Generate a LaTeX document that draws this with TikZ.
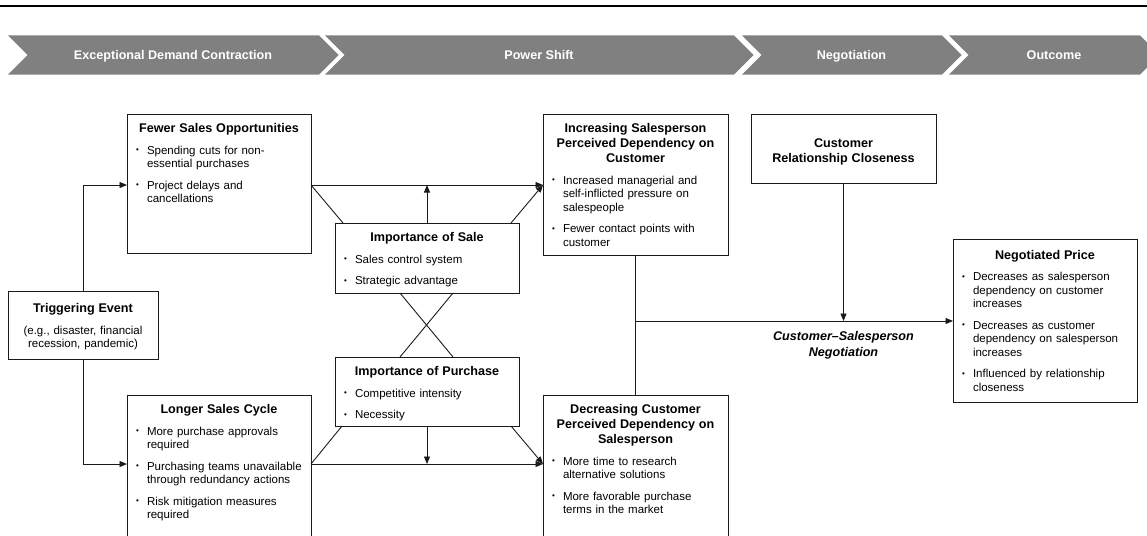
\documentclass[tikz,border=0pt]{standalone}
\usepackage{fontspec}
\setmainfont{Liberation Sans}
\usetikzlibrary{arrows.meta}

\definecolor{chevgray}{HTML}{808080}
\definecolor{linec}{HTML}{1A1A1A}

\newcommand{\titlefont}{\fontsize{12.6}{15}\selectfont\bfseries}
\newcommand{\bodyfont}{\fontsize{11.5}{13.5}\selectfont}
% centred bold heading of a box; lines separated by \par
\newcommand{\boxtitle}[1]{{\titlefont\parskip=0pt\centering\rule{0pt}{10pt}#1\par}}
% bulleted entry with hanging indent; lines separated by \newline
\newcommand{\bul}[1]{\par\hangindent=11pt\hangafter=1\noindent\makebox[11pt][l]{\fontsize{8}{8}\selectfont\raisebox{1.2pt}{\textbullet}}#1\par}

\tikzset{
  box/.style={draw=linec, line width=0.9pt, anchor=north west, inner sep=0pt, outer sep=0pt},
  content/.style={anchor=north, inner sep=0pt, outer sep=0pt, text width=#1, font=\bodyfont,
    execute at begin node={\parskip=8pt\parindent=0pt}},
  chev/.style={fill=chevgray},
  chevtext/.style={anchor=base, inner sep=0pt, text=white, font=\titlefont},
  conn/.style={draw=linec, line width=0.9pt},
  arr/.style={conn, -{Triangle[length=7.5pt,width=6pt]}},
  lab/.style={anchor=north, align=center, inner sep=0pt, font=\fontsize{12.6}{15.5}\selectfont\bfseries\itshape}
}

\begin{document}
\begin{tikzpicture}[x=1pt, y=-1pt]
\useasboundingbox (0,0) rectangle (1147,535);
\clip (0,0) rectangle (1147,535);

% top rule
\draw[line width=2.2pt] (0,6) -- (1147,6);

% phase chevrons
\fill[chev] (8,35.5) -- (319,35.5) -- (338.5,55) -- (319,74.5) -- (8,74.5) -- (27.5,55) -- cycle;
\fill[chev] (325,35.5) -- (734,35.5) -- (753.5,55) -- (734,74.5) -- (325,74.5) -- (344.5,55) -- cycle;
\fill[chev] (742,35.5) -- (942,35.5) -- (961.5,55) -- (942,74.5) -- (742,74.5) -- (761.5,55) -- cycle;
\fill[chev] (949,35.5) -- (1140,35.5) -- (1159.5,55) -- (1140,74.5) -- (949,74.5) -- (968.5,55) -- cycle;
\node[chevtext] (ph1) at (173,59.5) {Exceptional Demand Contraction};
\node[chevtext] (ph2) at (539,59.5) {Power Shift};
\node[chevtext] (ph3) at (851.5,59.5) {Negotiation};
\node[chevtext] (ph4) at (1054,59.5) {Outcome};

% helper levels for the horizontal connectors
\coordinate (upline) at (0,185);
\coordinate (lowline) at (0,464);
\coordinate (negline) at (0,321);

% boxes
\node[box, minimum width=150pt, minimum height=68pt] (trig) at (8,291) {};
\node[box, minimum width=184pt, minimum height=139pt] (fso) at (127,114) {};
\node[box, minimum width=184pt, minimum height=150pt] (lsc) at (127,395) {};
\node[box, minimum width=184pt, minimum height=70pt] (sale) at (335,223) {};
\node[box, minimum width=184pt, minimum height=69pt] (pur) at (335,357) {};
\node[box, minimum width=185pt, minimum height=141pt] (inc) at (543,114) {};
\node[box, minimum width=185pt, minimum height=150pt] (dec) at (543,395) {};
\node[box, minimum width=185pt, minimum height=69pt] (clo) at (751,114) {};
\node[box, minimum width=184pt, minimum height=163pt] (neg) at (953,239) {};

% box contents
\node[content=140pt] (trig-t) at ([yshift=-11.5pt]trig.north) {%
  \boxtitle{Triggering Event}%
  {\centering (e.g., disaster, financial\par\parskip=0pt recession, pandemic)\par}};

\node[content=166pt] (fso-t) at ([yshift=-8.5pt]fso.north) {%
  \boxtitle{Fewer Sales Opportunities}%
  \bul{Spending cuts for non-\newline essential purchases}%
  \bul{Project delays and\newline cancellations}};

\node[content=166pt] (lsc-t) at ([yshift=-8.5pt]lsc.north) {%
  \boxtitle{Longer Sales Cycle}%
  \bul{More purchase approvals\newline required}%
  \bul{Purchasing teams unavailable\newline through redundancy actions}%
  \bul{Risk mitigation measures\newline required}};

\node[content=166pt] (sale-t) at ([yshift=-8.5pt]sale.north) {%
  \boxtitle{Importance of Sale}%
  \bul{Sales control system}%
  \bul{Strategic advantage}};

\node[content=166pt] (pur-t) at ([yshift=-8.5pt]pur.north) {%
  \boxtitle{Importance of Purchase}%
  \bul{Competitive intensity}%
  \bul{Necessity}};

\node[content=167pt] (inc-t) at ([yshift=-8.5pt]inc.north) {%
  \boxtitle{Increasing Salesperson\par Perceived Dependency on\par Customer}%
  \bul{Increased managerial and\newline self-inflicted pressure on\newline salespeople}%
  \bul{Fewer contact points with\newline customer}};

\node[content=167pt] (dec-t) at ([yshift=-8.5pt]dec.north) {%
  \boxtitle{Decreasing Customer\par Perceived Dependency on\par Salesperson}%
  \bul{More time to research\newline alternative solutions}%
  \bul{More favorable purchase\newline terms in the market}};

\node[content=167pt] (clo-t) at ([yshift=-23.5pt]clo.north) {%
  \boxtitle{Customer\par Relationship Closeness}};

\node[content=166pt] (neg-t) at ([yshift=-10pt]neg.north) {%
  \boxtitle{Negotiated Price}%
  \bul{Decreases as salesperson\newline dependency on customer\newline increases}%
  \bul{Decreases as customer\newline dependency on salesperson\newline increases}%
  \bul{Influenced by relationship\newline closeness}};

% connectors from the triggering event
\draw[arr] (trig.north) |- (fso.west |- upline);
\draw[arr] (trig.south) |- (lsc.west |- lowline);

% upper path: fewer opportunities -> salesperson dependency, moderated by importance of sale
\draw[arr] (fso.east |- upline) -- (inc.west |- upline);
\draw[conn] (fso.east |- upline) -- ([xshift=8pt]sale.north west);
\draw[arr] ([xshift=-8pt]sale.north east) -- (inc.west |- upline);
\draw[arr] (sale.north) -- (sale.north |- upline);

% crossing links between the two moderators
\draw[conn] ([xshift=65pt]sale.south west) -- ([xshift=-66pt]pur.north east);
\draw[conn] ([xshift=-66pt]sale.south east) -- ([xshift=65pt]pur.north west);

% lower path: longer cycle -> customer dependency, moderated by importance of purchase
\draw[arr] (lsc.east |- lowline) -- (dec.west |- lowline);
\draw[conn] (lsc.east |- lowline) -- ([xshift=7pt]pur.south west);
\draw[arr] ([xshift=-8pt]pur.south east) -- (dec.west |- lowline);
\draw[arr] (pur.south) -- (pur.south |- lowline);

% negotiation
\draw[conn] (inc.south) -- (dec.north);
\draw[arr] (inc.south |- negline) -- (neg.west |- negline);
\draw[arr] (clo.south) -- (clo.south |- negline);
\node[lab] (negl) at (843.5,330.5) {\rule{0pt}{10pt}Customer–Salesperson\\Negotiation};
\end{tikzpicture}
\end{document}
